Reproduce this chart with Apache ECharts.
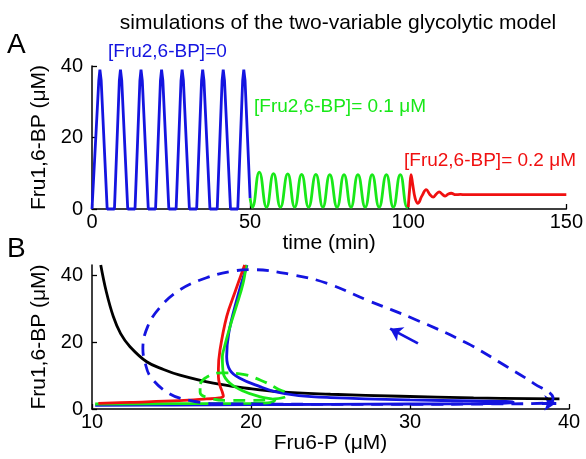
<!DOCTYPE html>
<html>
<head>
<meta charset="utf-8">
<script src="https://cdn.jsdelivr.net/npm/echarts@6/dist/echarts.min.js"></script>
<style>
  html, body { margin: 0; padding: 0; background: #fff; }
  #chart { width: 586px; height: 459px; }
</style>
</head>
<body>
<div id="chart"></div>
<script>
// Panel A: time courses [time (min), Fru1,6-BP (uM)]
var timeTicks = [0, 50, 100, 150];
var fbpTicksA = [0, 20, 40];
var cursoSinF26 = [
  [0, 0], [0.6, 0], [2.15, 36], [2.5, 39], [2.9, 36], [4.8, 0],
  [7.1, 0], [8.65, 36], [9, 39], [9.4, 36], [11.3, 0],
  [13.6, 0], [15.15, 36], [15.5, 39], [15.9, 36], [17.8, 0],
  [20.1, 0], [21.65, 36], [22, 39], [22.4, 36], [24.3, 0],
  [26.6, 0], [28.15, 36], [28.5, 39], [28.9, 36], [30.8, 0],
  [33.1, 0], [34.65, 36], [35, 39], [35.4, 36], [37.3, 0],
  [39.6, 0], [41.15, 36], [41.5, 39], [41.9, 36], [43.8, 0],
  [46.1, 0], [47.65, 36], [48, 39], [48.4, 36], [50, 3]
];
var curso01 = [
  [50, 3], [50.7, 0.5], [52.9, 10.3], [55.2, 0.5], [57.4, 9.9], [59.6, 0.5],
  [61.9, 9.8], [64.1, 0.5], [66.3, 9.7], [68.5, 0.5], [70.8, 9.7], [73, 0.5],
  [75.2, 9.6], [77.5, 0.5], [79.7, 9.6], [81.9, 0.5], [84.1, 9.6], [86.4, 0.5],
  [88.6, 9.6], [90.8, 0.5], [93.1, 9.6], [95.3, 0.5], [97.5, 9.6], [99.7, 0.5], [100, 0.6]
];
var curso02 = [
  [100, 0.5], [100.5, 6], [100.9, 9.6], [101.4, 7], [102.2, 3], [103.1, 1.6],
  [104.3, 3.6], [105.7, 5.4], [106.9, 4], [107.9, 3.3], [108.9, 4.2], [109.8, 4.8],
  [110.8, 4.1], [111.7, 3.6], [112.7, 4.2], [113.6, 4.4], [115, 4], [116.5, 4.1],
  [118, 4], [150, 4]
];

// Panel B: phase plane [Fru6-P (uM), Fru1,6-BP (uM)]
var f6pTicks = [10, 20, 30, 40];
var fbpTicksB = [0, 20, 40];
var nulclinaF6P = [
  [10.55, 43], [10.9, 35], [11.34, 27.6], [11.8, 22.5], [12.39, 18.6], [13.44, 14.1],
  [14.5, 11.8], [15.53, 10.1], [17.63, 7.7], [19.73, 6.2], [21.8, 5.1], [25, 4.4],
  [29.4, 3.8], [34, 3.3], [39.4, 3.0]
];
var nulclinaSinF26 = [
  [19.75, 43], [19.1, 32.5], [18.6, 22.6], [18.47, 15.6], [18.68, 11.6], [19.3, 9.2],
  [20.6, 6.6], [21.5, 5.2], [23, 4.0], [25, 3.4], [30, 2.7], [34, 2.4], [36.5, 2.1],
  [36.3, 1.8], [35, 1.6], [30, 1.5], [25, 1.4], [20, 1.3], [15, 1.2], [10.2, 1.1]
];
var nulclina01 = [
  [19.7, 43], [19.5, 37.5], [19.1, 31], [18.68, 24.6], [18.3, 18], [18.2, 15.6],
  [18.26, 10.6], [18.68, 7.7], [19.5, 5.4], [20.6, 3.6], [21.5, 2.6], [21.3, 2.0],
  [20, 1.7], [15, 1.6], [10.2, 1.5]
];
var nulclina02 = [
  [19.6, 43], [19.0, 35], [18.47, 27.6], [18.05, 17.6], [17.95, 12], [17.95, 9.6],
  [18.05, 7], [18.2, 5], [18.26, 3.8], [18.0, 3.3], [17.2, 3.0], [15.5, 2.5],
  [12.4, 2.0], [10.4, 1.7]
];
var cicloSinF26 = [
  [17.5, 1.6], [20, 1.5], [25, 1.4], [30, 1.4], [35, 1.5], [38.8, 1.8],
  [39.0, 3.2], [37.8, 7.6], [36.1, 12.6], [33.6, 19.6], [30.4, 26.6], [27.3, 32.5],
  [24.8, 37.5], [22.7, 40], [20.1, 41.6], [18.9, 41.2], [17.2, 39.2], [15.5, 35.5],
  [14.3, 30.5], [13.5, 24.6], [13.2, 18], [13.33, 14], [13.7, 9.5], [14.9, 4.5],
  [16.2, 2.5], [17.5, 1.6]
];
var ciclo01 = [
  [16.8, 7.5], [17.2, 9.5], [18.2, 10.8], [19.3, 10.5], [20.6, 8.6], [21.6, 6.2],
  [22.3, 4.3], [21.5, 3.0], [20, 2.6], [18.5, 2.6], [17.3, 3.4], [16.8, 5], [16.8, 7.5]
];
var flechaCiclo = [[30.5, 19.6], [28.75, 24]];
var flechaFinal = [[38.3, 1.8], [39.2, 1.8]];

var azul = '#1414e0';
var verde = '#18e818';
var rojo = '#f01010';
var fuente = 'Liberation Sans, Arial, sans-serif';

function ejeX(idx, min, max, ticks, nombre, gap) {
  return {
    type: 'value', gridIndex: idx, min: min, max: max, interval: ticks[1] - ticks[0],
    name: nombre, nameLocation: 'middle', nameGap: gap,
    nameTextStyle: { color: '#000', fontSize: 21, fontFamily: fuente },
    axisLine: { onZero: false, lineStyle: { color: '#000', width: 1.5 } },
    axisTick: { inside: true, length: 5, lineStyle: { color: '#000', width: 1.3 } },
    axisLabel: { color: '#000', fontSize: 20, fontFamily: fuente, margin: 3 },
    splitLine: { show: false }
  };
}
function ejeY(idx, max, ticks, nombre) {
  return {
    type: 'value', gridIndex: idx, min: 0, max: max,
    name: nombre, nameLocation: 'middle', nameGap: 25,
    nameTextStyle: { color: '#000', fontSize: 21, fontFamily: fuente },
    axisLine: { onZero: false, lineStyle: { color: '#000', width: 1.5 } },
    axisTick: { inside: true, length: 5, customValues: ticks, lineStyle: { color: '#000', width: 1.3 } },
    axisLabel: { color: '#000', fontSize: 20, fontFamily: fuente, margin: 9, customValues: ticks },
    splitLine: { show: false }
  };
}
function linea(nombre, datos, color, idx, extra) {
  var s = {
    name: nombre, type: 'line', data: datos, xAxisIndex: idx, yAxisIndex: idx,
    showSymbol: false, symbol: 'none', clip: false,
    lineStyle: { color: color, width: 2.8 }, itemStyle: { color: color }
  };
  for (var k in extra) s[k] = extra[k];
  return s;
}

var chart = echarts.init(document.getElementById('chart'));
chart.setOption({
  animation: false,
  backgroundColor: '#fff',
  title: {
    text: 'simulations of the two-variable glycolytic model',
    left: 333, top: 8, textAlign: 'center',
    textStyle: { fontSize: 21, fontWeight: 'normal', color: '#000', fontFamily: fuente }
  },
  graphic: [
    { type: 'text', left: 7, top: 31, style: { text: 'A', fontSize: 28, fill: '#000', fontFamily: fuente } },
    { type: 'text', left: 7, top: 235, style: { text: 'B', fontSize: 28, fill: '#000', fontFamily: fuente } },
    { type: 'text', left: 108, top: 42, style: { text: '[Fru2,6-BP]=0', fontSize: 19, fill: azul, fontFamily: fuente } },
    { type: 'text', left: 254, top: 97, style: { text: '[Fru2,6-BP]= 0.1 \u03bcM', fontSize: 19, fill: verde, fontFamily: fuente } },
    { type: 'text', left: 404, top: 151, style: { text: '[Fru2,6-BP]= 0.2 \u03bcM', fontSize: 19, fill: rojo, fontFamily: fuente } }
  ],
  grid: [
    { left: 92, top: 66, width: 477, height: 143 },
    { left: 92, top: 265, width: 477, height: 144 }
  ],
  xAxis: [
    ejeX(0, 0, 150, timeTicks, 'time (min)', 12),
    ejeX(1, 10, 40, f6pTicks, 'Fru6-P (\u03bcM)', 19)
  ],
  yAxis: [
    ejeY(0, 40, fbpTicksA, 'Fru1,6-BP (\u03bcM)'),
    ejeY(1, 43, fbpTicksB, 'Fru1,6-BP (\u03bcM)')
  ],
  series: [
    linea('A0', cursoSinF26, azul, 0, {}),
    linea('A01', curso01, verde, 0, { smooth: 0.5 }),
    linea('A02', curso02, rojo, 0, { smooth: 0.4 }),
    linea('nulF6P', nulclinaF6P, '#000', 1, { smooth: 0.4 }),
    linea('nul0', nulclinaSinF26, azul, 1, { smooth: 0.4 }),
    linea('nul01', nulclina01, verde, 1, { smooth: 0.4 }),
    linea('nul02', nulclina02, rojo, 1, { smooth: 0.4 }),
    linea('ciclo0', cicloSinF26, azul, 1, { smooth: 0.4, lineStyle: { color: azul, width: 2.8, type: [12, 8] } }),
    linea('ciclo01', ciclo01, verde, 1, { smooth: 0.5, lineStyle: { color: verde, width: 2.8, type: [12, 8] } }),
    {
      type: 'lines', coordinateSystem: 'cartesian2d', xAxisIndex: 1, yAxisIndex: 1,
      symbol: ['none', 'arrow'], symbolSize: [0, 12],
      lineStyle: { color: azul, width: 2.8, opacity: 1 },
      data: [{ coords: flechaCiclo }, { coords: flechaFinal }]
    }
  ]
});
</script>
</body>
</html>
